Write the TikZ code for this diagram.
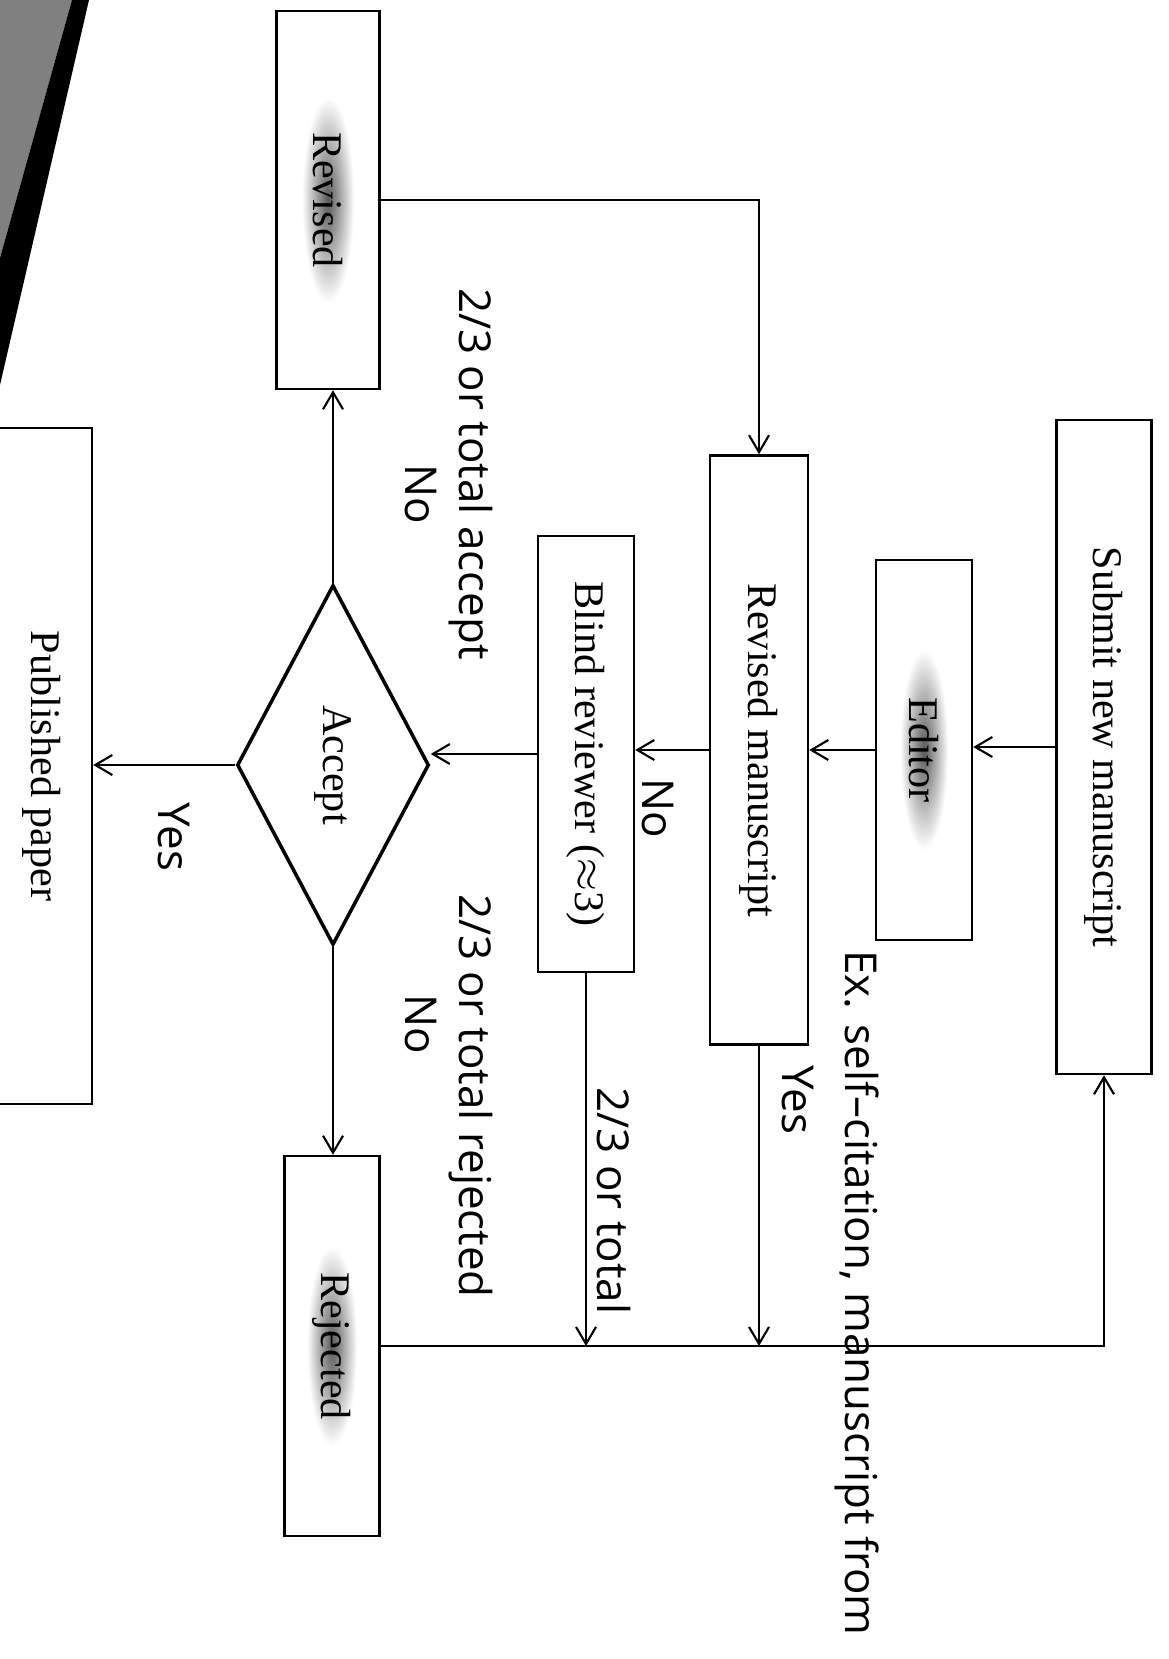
\documentclass[tikz,border=0pt]{standalone}
\usepackage{fontspec}
\usepackage{amsmath}
\usepackage{amssymb}
\usepackage{graphicx}
\setmainfont{Liberation Serif}
\newfontfamily\labelfont{Open Sans}
\usetikzlibrary{shapes.geometric,arrows.meta}

\begin{document}
\begin{tikzpicture}[x=0.1mm,y=-0.1mm]
\tikzstyle{every node}+=[inner sep=0pt]
\tikzstyle{box}=[draw=black, line width=0.7pt, rectangle, font=\fontsize{12}{14}\selectfont]
\tikzstyle{haze}=[rectangle, shading=radial, inner color=black!65, outer color=white, font=\fontsize{12}{14}\selectfont]
\tikzstyle{lbl}=[rotate=-90, font=\labelfont\fontsize{12.5}{15}\selectfont]
\tikzstyle{conn}=[black, line width=0.6pt, -{Straight Barb[length=1.7mm,width=2mm]}]
\useasboundingbox (0,0) rectangle (1168,1659);
\fill[black!50] (0,0) -- (72,0) -- (0,258) -- cycle;
\fill[black] (72,0) -- (89,0) -- (0,385) -- (0,258) -- cycle;
\node[box, minimum width=1.03cm, minimum height=3.78cm] (revised) at (328,200) {};
\node[haze, minimum width=0.52cm, minimum height=2.06cm] (revisedtxt) at (revised) {\rotatebox{-90}{Revised}};
\node[box, minimum width=0.95cm, minimum height=6.54cm] (submit) at (1104,747) {\rotatebox{-90}{Submit new manuscript}};
\node[box, minimum width=0.96cm, minimum height=3.80cm] (editor) at (924,750) {};
\node[haze, minimum width=0.48cm, minimum height=2.0cm] (editortxt) at (editor) {\rotatebox{-90}{Editor}};
\node[box, minimum width=0.98cm, minimum height=5.89cm] (revman) at (759,750) {\rotatebox{-90}{Revised manuscript}};
\node[box, minimum width=0.96cm, minimum height=4.36cm] (blind) at (586,754) {\rotatebox{-90}{Blind reviewer ($\approx$3)}};
\node[box, diamond, line width=1pt, minimum width=1.92cm, minimum height=3.6cm] (accept) at (333,765) {\rotatebox{-90}{Accept}};
\node[box, minimum width=1.0cm, minimum height=6.76cm] (published) at (42,766) {\rotatebox{-90}{Published paper}};
\node[box, minimum width=0.95cm, minimum height=3.8cm] (rejected) at (332,1346) {};
\node[haze, minimum width=0.5cm, minimum height=2.0cm] (rejectedtxt) at (rejected) {\rotatebox{-90}{Rejected}};
\draw[conn] (submit.west) -- (submit.west -| editor.east);
\draw[conn] (editor.west) -- (editor.west -| revman.east);
\draw[conn] (revman.west) -- (revman.west -| blind.east);
\draw[conn] (blind.west) -- (blind.west -| accept.east);
\draw[conn] (accept.west) -- (accept.west -| published.east);
\draw[conn] (accept.north) -- (accept.north |- revised.south);
\draw[conn] (accept.south) -- (accept.south |- rejected.north);
\draw[conn] (revised.east) -- (revised.east -| revman.north) -- (revman.north);
\draw[conn] (blind.south) -- (blind.south |- rejected.east);
\draw[conn] (revman.south) -- (revman.south |- rejected.east);
\draw[conn] (rejected.east) -- (rejected.east -| submit.south) -- (submit.south);
\node[lbl] (lacc) at (471,474) {2/3 or total accept};
\node[lbl] (lno1) at (421,494) {No};
\node[lbl] (lyes1) at (174,837) {Yes};
\node[lbl] (lno2) at (658,808) {No};
\node[lbl] (lrej) at (471,1096) {2/3 or total rejected};
\node[lbl] (lno3) at (421,1024) {No};
\node[lbl] (ltot) at (614,1201) {2/3 or total};
\node[lbl] (lyes2) at (798,1100) {Yes};
\node[lbl] (lex) at (857,1293) {Ex. self–citation, manuscript from};
\end{tikzpicture}
\end{document}
